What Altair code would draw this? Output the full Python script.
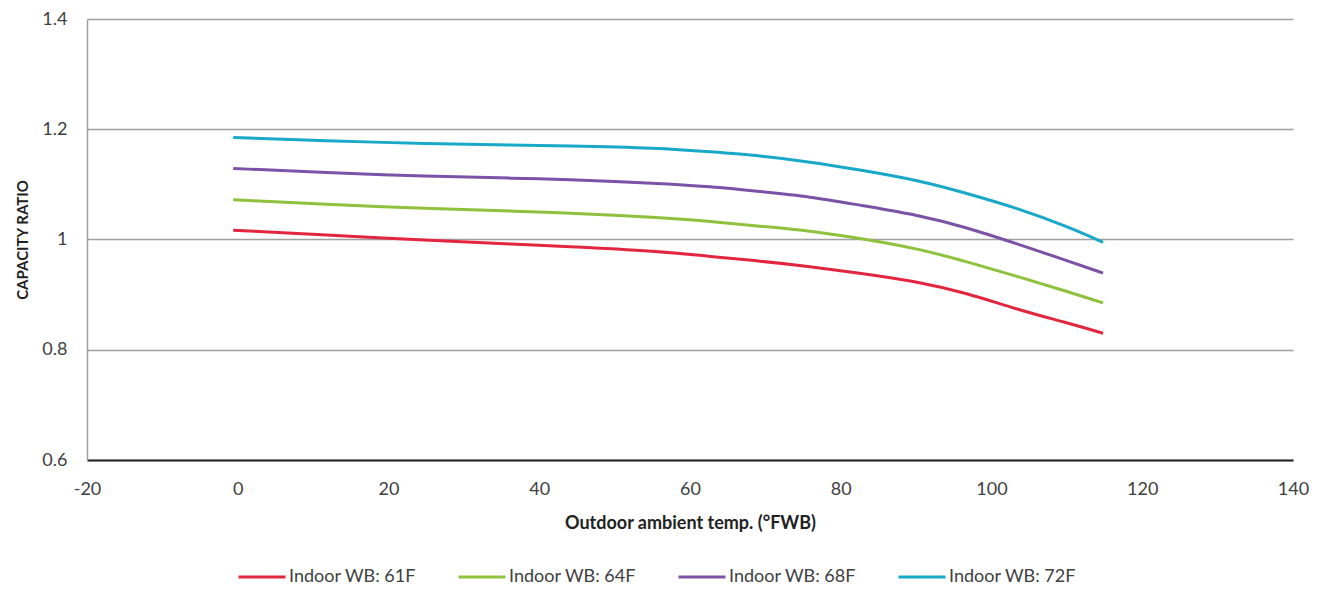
import altair as alt
import pandas as pd

# x positions (outdoor ambient temp, °F WB)
temps = [-0.6, 11.6, 24.9, 37.4, 42.8, 56.0, 62.7, 69.3, 75.9, 82.6, 90.1, 96.7, 103.4, 110.0, 114.8]

series_names = ["Indoor WB: 61F", "Indoor WB: 64F", "Indoor WB: 68F", "Indoor WB: 72F"]
wb61 = [1.017, 1.008, 0.999, 0.991, 0.988, 0.979, 0.969, 0.961, 0.951, 0.939, 0.924, 0.903, 0.873, 0.849, 0.830]
wb64 = [1.072, 1.064, 1.056, 1.051, 1.049, 1.040, 1.033, 1.024, 1.016, 1.002, 0.984, 0.960, 0.933, 0.906, 0.885]
wb68 = [1.129, 1.121, 1.115, 1.111, 1.109, 1.102, 1.096, 1.087, 1.078, 1.062, 1.045, 1.022, 0.992, 0.962, 0.939]
wb72 = [1.185, 1.179, 1.174, 1.171, 1.170, 1.166, 1.159, 1.152, 1.141, 1.126, 1.108, 1.084, 1.057, 1.024, 0.995]
series_values = [wb61, wb64, wb68, wb72]
series_colors = ["#e3263f", "#8fc13d", "#7a53a6", "#18a8c8"]

x_ticks = [-20, 0, 20, 40, 60, 80, 100, 120, 140]
y_ticks = [0.6, 0.8, 1.0, 1.2, 1.4]

rows = []
for name, vals in zip(series_names, series_values):
    for t, v in zip(temps, vals):
        rows.append({"temp": t, "ratio": v, "series": name})
df = pd.DataFrame(rows)

FONT = "Lato"

chart = alt.Chart(df).mark_line(strokeWidth=3, interpolate="basis").encode(
    x=alt.X(
        "temp:Q",
        scale=alt.Scale(domain=[-20, 140], nice=False, zero=False),
        axis=alt.Axis(
            values=x_ticks,
            labelExpr="'' + datum.value",
            title="Outdoor ambient temp. (°FWB)",
            titleFontSize=18,
            titleFontWeight="bold",
            titleColor="#222222",
            titlePadding=16,
            labelFontSize=18,
            labelColor="#404040",
            labelPadding=20,
            ticks=False,
            grid=False,
            domainColor="#222222",
            domainWidth=2,
            labelFlush=False,
        ),
    ),
    y=alt.Y(
        "ratio:Q",
        scale=alt.Scale(domain=[0.6, 1.4], nice=False, zero=False),
        axis=alt.Axis(
            values=y_ticks,
            format=".1~f",
            title="CAPACITY RATIO",
            titleFontSize=15,
            titleFontWeight="bold",
            titleColor="#222222",
            titlePadding=11,
            labelFontSize=18,
            labelColor="#404040",
            labelPadding=20,
            ticks=False,
            grid=True,
            gridColor="#a0a0a0",
            gridWidth=1.6,
            domainColor="#a0a0a0",
            domainWidth=1.5,
        ),
    ),
    color=alt.Color(
        "series:N",
        scale=alt.Scale(domain=series_names, range=series_colors),
        legend=alt.Legend(
            orient="none",
            direction="horizontal",
            legendX=150,
            legendY=533,
            title=None,
            symbolType="stroke",
            symbolSize=2209,
            symbolStrokeWidth=3,
            labelFontSize=18,
            labelColor="#404040",
            labelOffset=2,
            columnPadding=35,
        ),
    ),
).properties(
    width=1206,
    height=441,
    autosize=alt.AutoSizeParams(type="none"),
    padding={"left": 79, "top": 11, "right": 25, "bottom": 126},
).configure(
    font=FONT,
).configure_view(
    stroke=None,
).configure_axis(
    labelFont=FONT,
    titleFont=FONT,
).configure_legend(
    labelFont=FONT,
)

chart.save("out.html", embed_options={"renderer": "svg", "actions": False})
